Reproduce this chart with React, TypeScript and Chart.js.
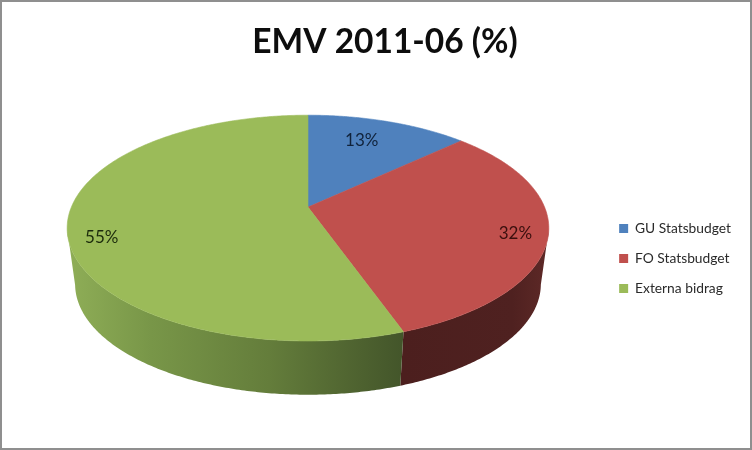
import React, { useEffect, useRef } from 'react';
import { Chart, registerables } from 'chart.js';

Chart.register(...registerables);

const categories = ['GU Statsbudget', 'FO Statsbudget', 'Externa bidrag'];
const shares = [13, 31.6, 55.4];
const sliceColors = ['#4f81bd', '#c0504d', '#9bbb59'];
const labelColors = ['#10223a', '#3a0f0e', '#1c2b0c'];
// how far out along the radius each percent label sits, and how far it is turned off the slice middle
const labelRadius = [0.73, 0.87, 0.87];
const labelTurn = [-0.05, 0.03, -0.14];

// 3D look of the pie
const PIE_SHIFT_X = -8;
const WIDTH_RATIO = 2.133;
const TILT = -0.186;
const DEPTH = 56;
const LOWER_RIM_X = 0.967;
const LOWER_RIM_Y = 0.98;
const LEGEND_SHIFT_Y = 88;

type Rim = { cx: number; cy: number; rx: number; ry: number };

// perspective projection of the pie disc onto the page
const project = (rim: Rim, angle: number, r = 1) => {
  const u = Math.cos(angle) * r;
  const v = Math.sin(angle) * r;
  const d = 1 + TILT * v;
  return {
    x: rim.cx + (rim.rx * u * Math.sqrt(1 - TILT * TILT)) / d,
    y: rim.cy + (rim.ry * (v + TILT)) / d,
  };
};

const pie3d = {
  id: 'pie3d',
  afterLayout(chart: any) {
    // legend sits beside the pie's lower half, not in the middle of its box
    chart.legend.top += LEGEND_SHIFT_Y;
    chart.legend.bottom += LEGEND_SHIFT_Y;
  },
  beforeDatasetsDraw(chart: Chart) {
    const { ctx } = chart;
    const arcs = chart.getDatasetMeta(0).data as any[];
    const first = arcs[0];
    const top: Rim = {
      cx: first.x + PIE_SHIFT_X,
      cy: first.y,
      rx: first.outerRadius * WIDTH_RATIO,
      ry: first.outerRadius,
    };
    const low: Rim = {
      cx: top.cx,
      cy: top.cy + DEPTH,
      rx: top.rx * LOWER_RIM_X,
      ry: top.ry * LOWER_RIM_Y,
    };

    const anglesOf = (arc: any) => {
      const out: number[] = [];
      const steps = Math.ceil((arc.endAngle - arc.startAngle) / 0.01);
      for (let i = 0; i <= steps; i++) {
        out.push(arc.startAngle + ((arc.endAngle - arc.startAngle) * i) / steps);
      }
      return out;
    };

    ctx.save();

    // side walls first, the front part of each rim only
    arcs.forEach((arc, i) => {
      const front = anglesOf(arc).filter(a => Math.sin(a) >= -TILT);
      if (front.length < 2) return;
      const a = project(top, front[0]);
      const b = project(top, front[front.length - 1]);
      const from = Math.min(a.x, b.x);
      const to = Math.max(a.x, b.x);
      const g = ctx.createLinearGradient(from, 0, to, 0);
      if (i === 2) {
        g.addColorStop(0, '#8fae57');
        g.addColorStop(0.25, '#789648');
        g.addColorStop(0.6, '#647d3b');
        g.addColorStop(1, '#43552a');
      } else {
        g.addColorStop(0, '#4c1f1e');
        g.addColorStop(0.75, '#4f2120');
        g.addColorStop(1, '#5e2927');
      }
      ctx.fillStyle = g;
      ctx.beginPath();
      front.forEach(t => {
        const p = project(top, t);
        ctx.lineTo(p.x, p.y);
      });
      [...front].reverse().forEach(t => {
        const p = project(low, t);
        ctx.lineTo(p.x, p.y);
      });
      ctx.closePath();
      ctx.fill();
    });

    // top face
    arcs.forEach((arc, i) => {
      const apex = project(top, 0, 0);
      ctx.fillStyle = sliceColors[i];
      ctx.strokeStyle = sliceColors[i];
      ctx.lineWidth = 0.6;
      ctx.beginPath();
      ctx.moveTo(apex.x, apex.y);
      anglesOf(arc).forEach(t => {
        const p = project(top, t);
        ctx.lineTo(p.x, p.y);
      });
      ctx.closePath();
      ctx.fill();
      ctx.stroke();
    });

    // percent labels
    ctx.font = '17px Lato';
    ctx.textAlign = 'center';
    ctx.textBaseline = 'middle';
    arcs.forEach((arc, i) => {
      const mid = (arc.startAngle + arc.endAngle) / 2 + labelTurn[i];
      const p = project(top, mid, labelRadius[i]);
      ctx.fillStyle = labelColors[i];
      ctx.fillText(`${Math.round(shares[i])}%`, p.x, p.y);
    });

    ctx.restore();
    return false;
  },
};

export default function App() {
  const chartRef = useRef<HTMLCanvasElement | null>(null);

  useEffect(() => {
    if (!chartRef.current) return;
    const chart = new Chart(chartRef.current, {
      type: 'pie',
      data: {
        labels: categories,
        datasets: [
          {
            data: shares,
            backgroundColor: sliceColors,
            borderWidth: 0,
          },
        ],
      },
      options: {
        responsive: false,
        animation: false,
        layout: { padding: { left: 29, right: 11, top: 0, bottom: 109 } },
        plugins: {
          title: {
            display: true,
            text: 'EMV 2011-06 (%)',
            color: '#0d0d0d',
            font: { family: 'Lato', size: 33.5, weight: 'bold' },
            padding: { top: 22.5, bottom: 52.5 },
          },
          legend: {
            position: 'right',
            labels: {
              color: '#2a2a2a',
              font: { family: 'Lato', size: 13.8 },
              boxWidth: 9,
              boxHeight: 9,
              padding: 16.2,
            },
          },
          tooltip: { enabled: false },
        },
      },
      plugins: [pie3d],
    });

    return () => {
      chart.destroy();
    };
  }, []);

  return (
    <div
      style={{
        position: 'fixed',
        left: 0,
        top: 0,
        width: 752,
        height: 450,
        background: '#ffffff',
        boxShadow: 'inset 0 0 0 2px #8f8f8f',
      }}
    >
      <canvas ref={chartRef} width={752} height={450} style={{ display: 'block' }} />
    </div>
  );
}
